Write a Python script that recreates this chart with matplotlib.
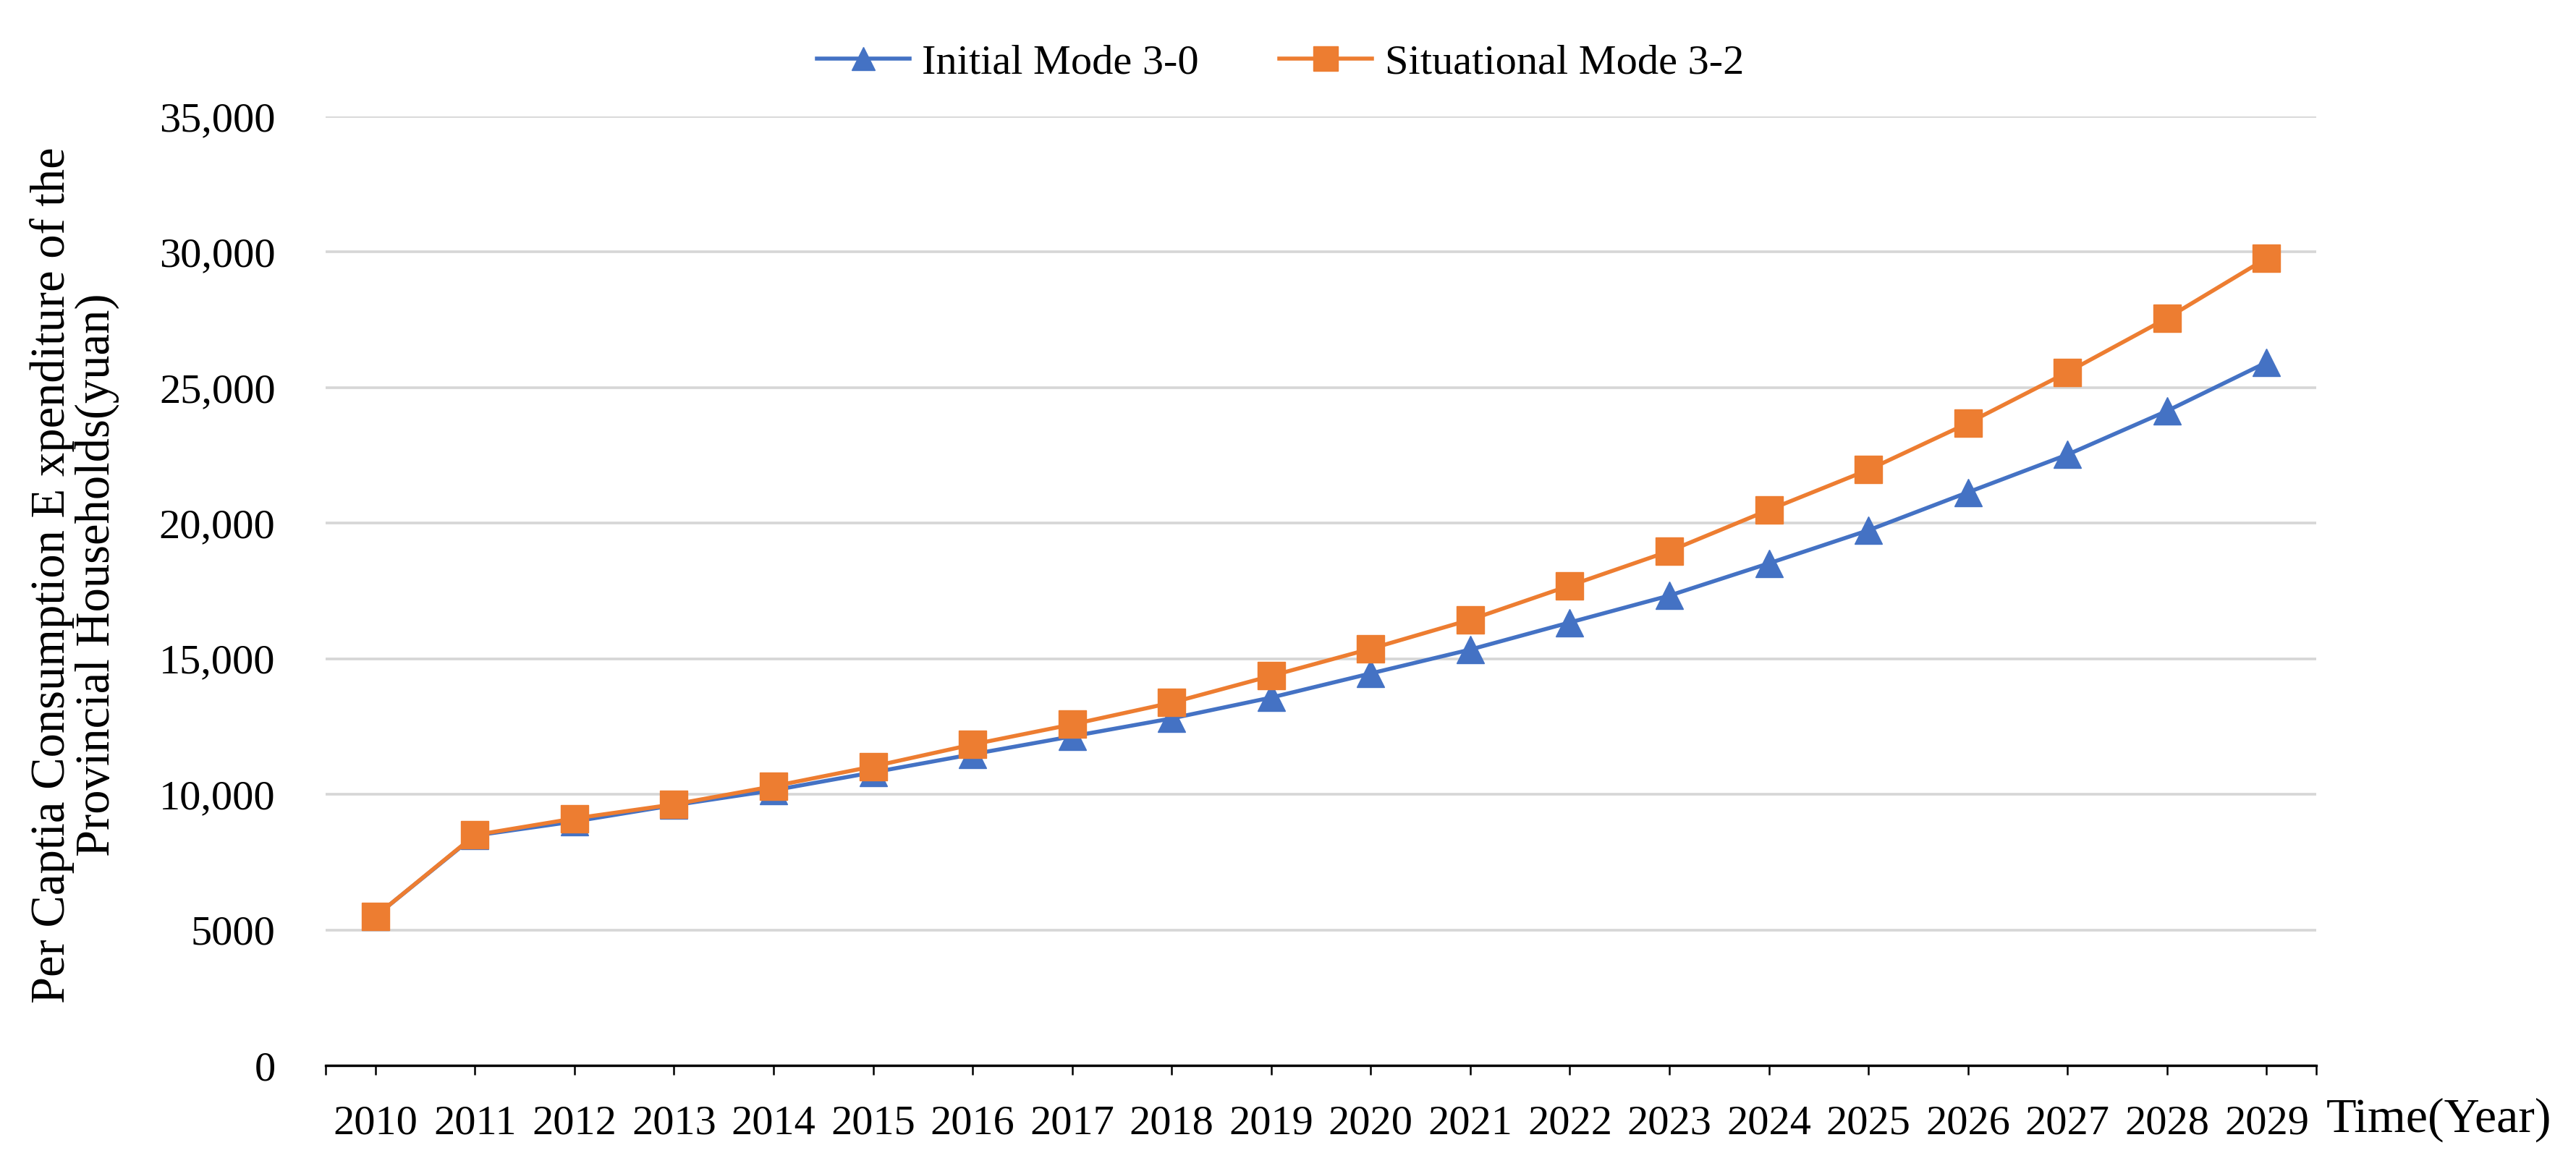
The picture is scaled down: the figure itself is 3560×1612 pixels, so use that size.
import numpy as np
import matplotlib
matplotlib.use("Agg")
import matplotlib.pyplot as plt

# data
years = [str(y) for y in range(2010, 2030)]
initial_mode = [5500, 8480, 9000, 9600, 10150, 10810, 11480, 12140, 12800, 13570,
                14460, 15340, 16340, 17330, 18520, 19740, 21140, 22530, 24140, 25930]
situational_mode = [5500, 8500, 9110, 9630, 10300, 11030, 11840, 12580, 13380, 14370,
                    15370, 16440, 17700, 18970, 20490, 21970, 23690, 25570, 27560, 29770]
y_ticks = [0, 5000, 10000, 15000, 20000, 25000, 30000, 35000]
y_tick_labels = ["0", "5000", "10,000", "15,000", "20,000", "25,000", "30,000", "35,000"]

plt.rcParams['font.family'] = ['Liberation Serif', 'DejaVu Serif']

fig = plt.figure(figsize=(35.6, 16.12), dpi=100)
ax = fig.add_axes([0.1264, 0.0862, 0.7728, 0.8139])

x = np.arange(len(years))
ax.plot(x, initial_mode, color='#4472C4', lw=4, marker='^', ms=27,
        label='Initial Mode 3-0', zorder=3)
ax.plot(x, situational_mode, color='#ED7D31', lw=4, marker='s', ms=28,
        label='Situational Mode 3-2', zorder=4)

ax.set_xlim(-0.5, len(years) - 0.5)
ax.set_ylim(0, 35000)
ax.set_yticks(y_ticks)
ax.set_yticklabels(y_tick_labels)
ax.set_xticks(x)
ax.set_xticklabels(years)
ax.set_xticks([-0.5, len(years) - 0.5], minor=True)

ax.grid(axis='y', color='#D6D6D6', lw=2.6)
ax.set_axisbelow(True)
for s in ['top', 'right', 'left']:
    ax.spines[s].set_visible(False)
ax.spines['bottom'].set_linewidth(2.4)
ax.spines['bottom'].set_zorder(5)

ax.tick_params(axis='y', length=0, pad=50, labelsize=42)
ax.tick_params(axis='x', which='both', length=9, width=1.8, direction='out',
               pad=30, labelsize=42)

ax.text(1.005, -0.057, 'Time(Year)', transform=ax.transAxes, fontsize=49,
        ha='left', va='center')

fig.text(0.029, 0.507, 'Per Captia Consumption E xpenditure of the\nProvincial Households(yuan)',
         rotation=90, ha='center', va='center', fontsize=48, linespacing=1.0)

fig.legend(loc='upper center', bbox_to_anchor=(0.497, 0.995), ncol=2, frameon=False,
           fontsize=42, handlelength=2.2, handletextpad=0.3, columnspacing=1.9,
           markerscale=0.85)

fig.savefig('out.png', dpi=100, facecolor='white')
